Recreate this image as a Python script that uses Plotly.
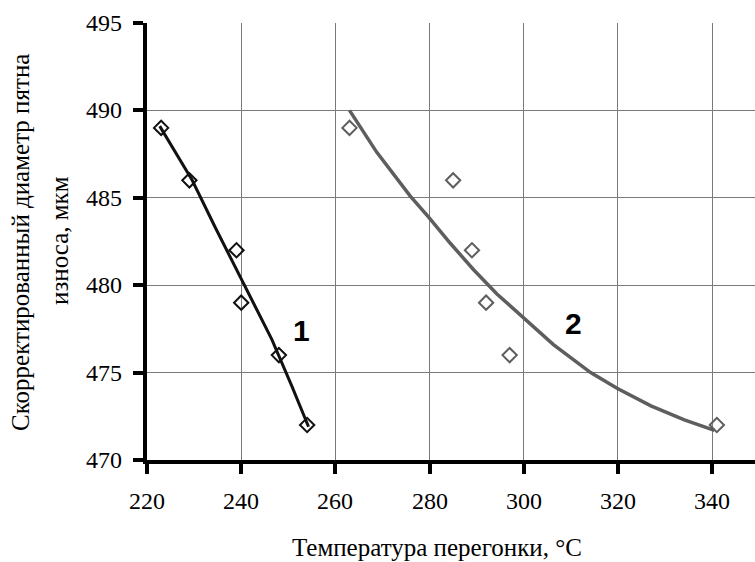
import plotly.graph_objects as go

# Measured points
x1_pts = [223, 229, 239, 240, 248, 254]
y1_pts = [489, 486, 482, 479, 476, 472]
x2_pts = [263, 285, 289, 292, 297, 341]
y2_pts = [489, 486, 482, 479, 476, 472]

# Trend curves
x1_trend = [222.7, 226.7, 229.6, 234.5, 238.8, 240.9, 246.5, 250.8, 254.3]
y1_trend = [489.1, 487.3, 486.0, 483.3, 481.0, 479.9, 476.9, 474.2, 471.9]
x2_trend = [263.0, 268.8, 275.9, 279.8, 284.4, 289.3, 294.3, 300.0, 306.3, 314.2, 319.8, 327.0, 334.1, 340.5]
y2_trend = [490.0, 487.6, 485.1, 483.9, 482.4, 480.9, 479.5, 478.1, 476.6, 475.0, 474.1, 473.1, 472.3, 471.7]

x_ticks = [220, 240, 260, 280, 300, 320, 340]
y_ticks = [470, 475, 480, 485, 490, 495]
x_ticktext = ["220", "240", "260", "280", "300", "320", "340"]
y_ticktext = ["470", "475", "480", "485", "490", "495"]

black = "#111111"
gray = "#5e5e5e"
serif = "Liberation Serif"

fig = go.Figure()
fig.add_trace(go.Scatter(x=x1_trend, y=y1_trend, mode="lines",
                         line=dict(color=black, width=3), showlegend=False))
fig.add_trace(go.Scatter(x=x2_trend, y=y2_trend, mode="lines",
                         line=dict(color=gray, width=3.5), showlegend=False))
fig.add_trace(go.Scatter(x=x1_pts, y=y1_pts, mode="markers",
                         marker=dict(symbol="diamond-open", size=11, color=black,
                                     line=dict(width=2, color=black)), showlegend=False))
fig.add_trace(go.Scatter(x=x2_pts, y=y2_pts, mode="markers",
                         marker=dict(symbol="diamond-open", size=11, color=gray,
                                     line=dict(width=2, color=gray)), showlegend=False))

W, H = 755, 562
L, T, B = 147, 23, 102
pw = W - L
ph = H - T - B

def px(xp):
    return (xp - L) / pw

def py(yp):
    return (H - B - yp) / ph

annotations = [
    dict(x=252.8, y=477.4, xref="x", yref="y", text="<b>1</b>", showarrow=False,
         xanchor="center", yanchor="middle",
         font=dict(family="Liberation Sans", size=30, color="black")),
    dict(x=310.5, y=477.8, xref="x", yref="y", text="<b>2</b>", showarrow=False,
         xanchor="center", yanchor="middle",
         font=dict(family="Liberation Sans", size=30, color="black")),
    dict(x=px(437), y=py(547), xref="paper", yref="paper",
         xanchor="center", yanchor="middle",
         text="Температура перегонки, °C", showarrow=False,
         font=dict(family=serif, size=25, color="black")),
    dict(x=px(21), y=py(243), xref="paper", yref="paper", textangle=-90,
         xanchor="center", yanchor="middle",
         text="Скорректированный диаметр пятна", showarrow=False,
         font=dict(family=serif, size=25, color="black")),
    dict(x=px(60), y=py(241), xref="paper", yref="paper", textangle=-90,
         xanchor="center", yanchor="middle",
         text="износа, мкм", showarrow=False,
         font=dict(family=serif, size=25, color="black")),
]
# tick labels (serif) placed on the axis scales
for v, t in zip(x_ticks, x_ticktext):
    annotations.append(dict(x=v, y=py(501), xref="x", yref="paper", text=t,
                            showarrow=False, xanchor="center", yanchor="middle",
                            font=dict(family=serif, size=24, color="black")))
for v, t in zip(y_ticks, y_ticktext):
    annotations.append(dict(x=px(124), y=v, xref="paper", yref="y", text=t,
                            showarrow=False, xanchor="right", yanchor="middle",
                            font=dict(family=serif, size=24, color="black")))

fig.update_layout(
    template="none",
    width=W, height=H,
    margin=dict(l=L, r=0, t=T, b=B, pad=0),
    plot_bgcolor="white", paper_bgcolor="white",
    font=dict(family=serif, size=24, color="black"),
    xaxis=dict(range=[220, 349.1], tickmode="array", tickvals=x_ticks,
               showticklabels=False,
               showgrid=True, gridcolor="#7a7a7a", gridwidth=1,
               showline=True, linecolor="black", linewidth=4,
               ticks="outside", ticklen=10, tickwidth=4, tickcolor="black",
               zeroline=False),
    yaxis=dict(range=[470, 495], tickmode="array", tickvals=y_ticks,
               showticklabels=False,
               showgrid=True, gridcolor="#7a7a7a", gridwidth=1,
               showline=True, linecolor="black", linewidth=4,
               ticks="outside", ticklen=10, tickwidth=4, tickcolor="black",
               zeroline=False),
    annotations=annotations,
)

fig.write_html("out.html")
